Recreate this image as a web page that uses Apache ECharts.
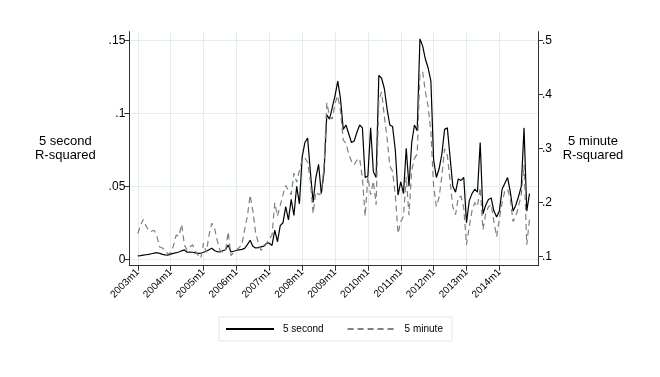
<!DOCTYPE html>
<html>
<head>
<meta charset="utf-8">
<script src="https://cdn.jsdelivr.net/npm/echarts@6.0.0/dist/echarts.min.js"></script>
<style>
  html, body { margin: 0; padding: 0; background: #fff; }
  #chart { width: 660px; height: 377px; }
</style>
</head>
<body>
<div id="chart"></div>
<script>
// monthly R-squared, 2003m1 .. 2014m12
var sec5 = [
  .0023, .0025, .0028, .0031, .0034, .0038, .0042, .0045, .004, .0034, .003, .0028,
  .0035, .004, .0045, .005, .0058, .0064, .0048, .005, .0048, .0044, .004, .0042,
  .0048, .0055, .0065, .0075, .006, .0052, .005, .0058, .0065, .0098, .005, .0055,
  .006, .0064, .0068, .0075, .01, .013, .009, .0078, .008, .0085, .009, .011,
  .011, .0095, .02, .012, .023, .025, .036, .027, .041, .03, .05, .038,
  .07, .08, .083, .06, .039, .056, .065, .045, .06, .099, .096, .104,
  .112, .122, .11, .089, .092, .086, .08, .081, .087, .092, .09, .056,
  .057, .09, .06, .056, .126, .124, .117, .103, .092, .091, .075, .044,
  .053, .045, .076, .05, .08, .092, .088, .151, .146, .137, .131, .122,
  .068, .056, .062, .072, .089, .09, .07, .05, .046, .055, .054, .056,
  .025, .04, .045, .048, .046, .08, .031, .037, .041, .042, .033, .029,
  .033, .048, .052, .056, .046, .033, .037, .043, .05, .09, .033, .045
];
var min5 = [
  .143, .158, .169, .157, .148, .147, .149, .137, .118, .116, .112, .105,
  .107, .12, .14, .138, .16, .122, .112, .118, .122, .11, .103, .097,
  .125, .108, .14, .162, .153, .13, .112, .108, .11, .146, .102, .108,
  .112, .117, .122, .15, .175, .214, .185, .145, .125, .112, .116, .125,
  .133, .14, .2, .175, .195, .215, .232, .222, .215, .255, .238, .26,
  .279, .283, .275, .24, .18, .22, .215, .217, .27, .385, .36, .355,
  .384, .398, .37, .316, .31, .29, .277, .27, .279, .282, .245, .175,
  .248, .215, .24, .196, .39, .405, .36, .32, .268, .258, .215, .143,
  .165, .175, .248, .177, .26, .282, .29, .44, .442, .405, .378, .33,
  .23, .193, .21, .25, .3, .288, .24, .192, .178, .21, .212, .19,
  .122, .155, .185, .2, .193, .228, .15, .18, .192, .197, .165, .137,
  .17, .2, .222, .225, .207, .165, .175, .193, .215, .27, .122, .17
];

var xTicks = [0, 12, 24, 36, 48, 60, 72, 84, 96, 108, 120, 132];
var xLabels = ['2003m1', '2004m1', '2005m1', '2006m1', '2007m1', '2008m1',
               '2009m1', '2010m1', '2011m1', '2012m1', '2013m1', '2014m1'];
var leftTicks = [0, .05, .1, .15];
var leftLabels = ['0', '.05', '.1', '.15'];
var rightTicks = [.1, .2, .3, .4, .5];
var rightLabels = ['.1', '.2', '.3', '.4', '.5'];
var names = ['5 second', '5 minute'];

var font = 'Liberation Sans, Arial, Helvetica, sans-serif';
var gridColor = '#e3ecee';
var axisColor = '#333';

function pairs(arr) {
  return arr.map(function (v, i) { return [i, v]; });
}

var myChart = echarts.init(document.getElementById('chart'), null, { renderer: 'canvas' });
myChart.setOption({
  backgroundColor: '#fff',
  animation: false,
  textStyle: { fontFamily: font },
  grid: { left: 129.3, right: 122, top: 31.7, bottom: 111.3 },
  legend: {
    data: names,
    left: 219, top: 317,
    itemWidth: 48, itemHeight: 10, itemGap: 23,
    padding: [7, 9, 7, 6],
    borderColor: '#dde6e8', borderWidth: 1,
    itemStyle: { opacity: 0 },
    textStyle: { fontSize: 10, color: '#000', fontFamily: font, padding: [0, 0, 0, 4] }
  },
  xAxis: {
    type: 'value',
    min: -3.1, max: 146.1,
    axisLine: { show: true, onZero: false, lineStyle: { color: axisColor, width: 1 } },
    axisTick: { show: true, length: 5, customValues: xTicks, lineStyle: { color: axisColor } },
    axisLabel: {
      customValues: xTicks, rotate: 45, margin: 5,
      fontSize: 10, color: '#000', fontFamily: font,
      formatter: function (v) { return xLabels[xTicks.indexOf(v)]; }
    },
    splitLine: { show: true, lineStyle: { color: gridColor, width: 1 } }
  },
  yAxis: [{
    type: 'value',
    position: 'left',
    min: -0.0044, max: 0.1559,
    name: '5 second\nR-squared',
    nameLocation: 'middle', nameRotate: 0, nameGap: 64,
    nameTextStyle: { fontSize: 13, color: '#000', align: 'center', verticalAlign: 'middle', lineHeight: 14, fontFamily: font },
    axisLine: { show: true, onZero: false, lineStyle: { color: axisColor, width: 1 } },
    axisTick: { show: true, length: 5, customValues: leftTicks, lineStyle: { color: axisColor } },
    axisLabel: {
      customValues: leftTicks, margin: 4, fontSize: 12, color: '#000', fontFamily: font,
      formatter: function (v) { return leftLabels[leftTicks.indexOf(v)]; }
    },
    splitLine: { show: true, lineStyle: { color: gridColor, width: 1 } }
  }, {
    type: 'value',
    position: 'right',
    min: 0.0833, max: 0.5167,
    name: '5 minute\nR-squared',
    nameLocation: 'middle', nameRotate: 0, nameGap: 55,
    nameTextStyle: { fontSize: 13, color: '#000', align: 'center', verticalAlign: 'middle', lineHeight: 14, fontFamily: font },
    axisLine: { show: true, onZero: false, lineStyle: { color: axisColor, width: 1 } },
    axisTick: { show: true, length: 5, customValues: rightTicks, lineStyle: { color: axisColor } },
    axisLabel: {
      customValues: rightTicks, margin: 4, fontSize: 12, color: '#000', fontFamily: font,
      formatter: function (v) { return rightLabels[rightTicks.indexOf(v)]; }
    },
    splitLine: { show: false }
  }],
  series: [{
    name: names[0],
    type: 'line',
    yAxisIndex: 0,
    data: pairs(sec5),
    symbol: 'none',
    color: '#000',
    lineStyle: { color: '#000', width: 1.2 }
  }, {
    name: names[1],
    type: 'line',
    yAxisIndex: 1,
    data: pairs(min5),
    symbol: 'none',
    color: '#808080',
    lineStyle: { color: '#808080', width: 1.2, type: [6, 4] }
  }]
});
</script>
</body>
</html>
